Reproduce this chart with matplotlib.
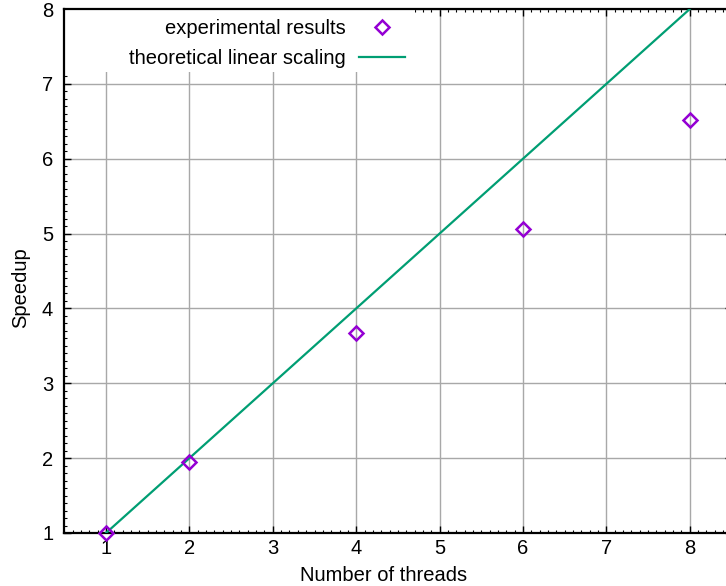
import matplotlib.pyplot as plt
from matplotlib.ticker import MultipleLocator
from matplotlib.lines import Line2D
from matplotlib.patches import Rectangle

# Data
threads = [1, 2, 4, 6, 8]
speedup = [1.0, 1.95, 3.67, 5.06, 6.52]
linear_x = [1, 8]
linear_y = [1, 8]

purple = "#9400d3"
green = "#009e73"

plt.rcParams["font.family"] = ["Liberation Sans", "DejaVu Sans"]

fig = plt.figure(figsize=(7.26, 5.86), dpi=100)
# right edge runs past the image like in the reference
ax = fig.add_axes([64.3 / 726, 53 / 586, 667.2 / 726, 524 / 586])

ax.plot(linear_x, linear_y, color=green, lw=1.6, zorder=3)
ax.plot(threads, speedup, ls="none", marker="D", ms=7, mfc="none",
        mec=purple, mew=1.8, zorder=4, clip_on=False)

ax.set_xlim(0.5, 8.5)
ax.set_ylim(1, 8)
ax.xaxis.set_major_locator(MultipleLocator(1))
ax.xaxis.set_minor_locator(MultipleLocator(0.1))
ax.yaxis.set_major_locator(MultipleLocator(1))
ax.yaxis.set_minor_locator(MultipleLocator(0.1))
ax.tick_params(which="both", direction="in", top=True, right=True, labelsize=14.5)
ax.tick_params(which="major", length=5, width=1)
ax.tick_params(which="minor", length=2.5, width=0.8)
ax.tick_params(axis="x", pad=4)
ax.tick_params(axis="y", pad=8)
for s in ax.spines.values():
    s.set_linewidth(1.6)

ax.grid(True, which="major", color="#a8a8a8", lw=1)
ax.set_axisbelow(True)

# white key area hides the grid behind the legend
ax.add_patch(Rectangle((0, 0.88), 0.526, 0.12, transform=ax.transAxes,
                       facecolor="white", edgecolor="none", zorder=1))

ax.set_xlabel("Number of threads", fontsize=14.5)
ax.xaxis.set_label_coords(0.478, -0.063)
ax.set_ylabel("Speedup", fontsize=14.5)
ax.yaxis.set_label_coords(-0.051, 0.469)

handles = [
    Line2D([], [], ls="none", marker="D", ms=7, mfc="none", mec=purple, mew=1.8),
    Line2D([], [], color=green, lw=1.6),
]
leg = ax.legend(handles, ["experimental results", "theoretical linear scaling"],
                markerfirst=False, loc="upper right",
                bbox_to_anchor=(415 / 726, 1 - 9 / 586), bbox_transform=fig.transFigure,
                fontsize=14.5, frameon=False, borderpad=0.5,
                labelspacing=0.55, handlelength=2.3, handletextpad=0.65,
                borderaxespad=0)
leg.set_zorder(5)

fig.savefig("out.png", dpi=100)
